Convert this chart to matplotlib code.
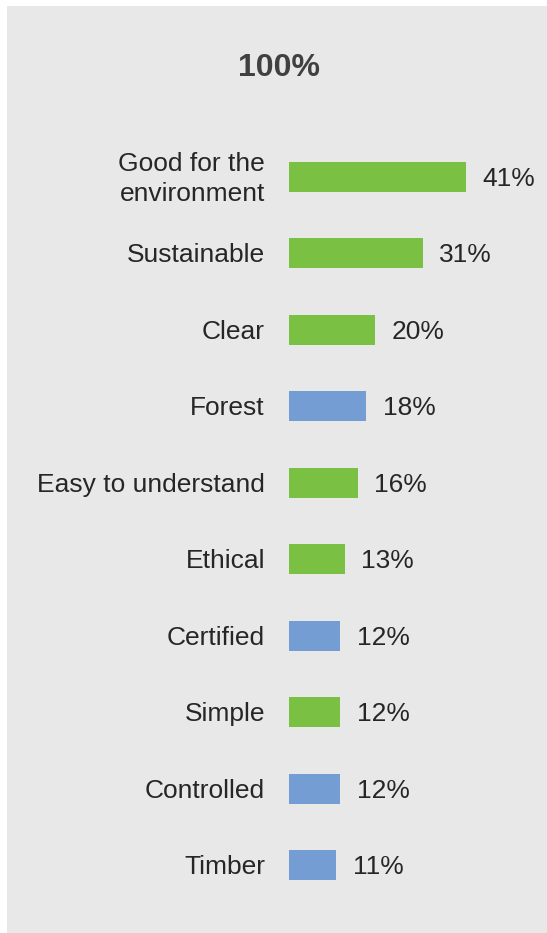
import matplotlib
matplotlib.use('Agg')
import matplotlib.pyplot as plt
from matplotlib.patches import Rectangle

plt.rcParams['font.family'] = ['Liberation Sans', 'DejaVu Sans']

categories = ["Good for the\nenvironment", "Sustainable", "Clear", "Forest",
              "Easy to understand", "Ethical", "Certified", "Simple",
              "Controlled", "Timber"]
values = [41, 31, 20, 18, 16, 13, 12, 12, 12, 11]
groups = ["g", "g", "g", "b", "g", "g", "b", "g", "b", "b"]
title = "100%"

GREEN = "#7AC143"
BLUE = "#739DD3"
BG = "#E8E8E8"
TXT = "#262626"

W, H = 547, 933
fig = plt.figure(figsize=(W / 100, H / 100), dpi=100)
fig.patch.set_facecolor("white")
fig.add_artist(Rectangle((7 / W, 0), 1 - 7 / W, 1 - 6 / H, transform=fig.transFigure,
                         facecolor=BG, edgecolor="none", zorder=0))

# bar baseline at x=288.5px, 4.33 px per percent; rows 76.5px apart starting at 176.7px
x0 = 288.5
ppp = 4.33
ax = fig.add_axes([x0 / W, 0, 1 - x0 / W, 1])
ax.set_xlim(0, (W - x0) / ppp)
ax.set_ylim((H - 176.7) / 76.5, -176.7 / 76.5)
ax.axis("off")

pos = list(range(len(categories)))
colors = [GREEN if g == "g" else BLUE for g in groups]
ax.barh(pos, values, height=0.39, color=colors, zorder=2)

for p, cat, v in zip(pos, categories, values):
    ax.annotate(cat, (0, p), xytext=(-17, -1.5), textcoords="offset points",
                ha="right", va="center", fontsize=19, color=TXT, linespacing=1.3)
    ax.annotate(f"{v}%", (v, p), xytext=(12, -1.5), textcoords="offset points",
                ha="left", va="center", fontsize=19, color=TXT)

fig.text(279 / W, 1 - 68 / H, title, ha="center", va="center", fontsize=23,
         fontweight="bold", color="#404040")

fig.savefig("out.png", dpi=100)
